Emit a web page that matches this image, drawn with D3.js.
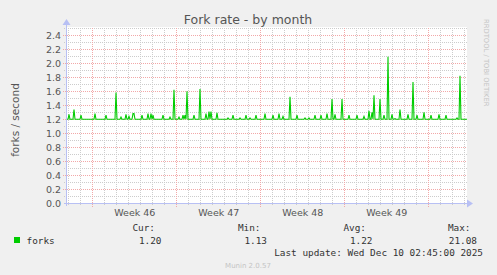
<!DOCTYPE html>
<html lang="en">
<head>
<meta charset="UTF-8">
<title>Fork rate - by month</title>
<style>
    body { margin: 0; background: #f0f0f0; }
    svg { display: block; }
    text { font-family: "DejaVu Sans", sans-serif; fill: #555; }
    .mono { font-family: "DejaVu Sans Mono", monospace; fill: #333; }
</style>
<script src="https://d3js.org/d3.v7.min.js"></script>
</head>
<body>
<svg width="497" height="275"></svg>
<script>
// period covered by the graph: 400 samples of 2 hours
const startTime = new Date(Date.UTC(2025, 10, 7, 21, 20));
const sampleHours = 2;
const sampleCount = 400;

// flat level of the series, forks / second
const baseline = 1.2;
// hours after startTime where the series peaks, and the peak values
const spikeHour = [4, 14, 28, 56, 78, 98, 108, 118, 124, 132, 134, 150, 162, 168, 172, 192,
    206, 214, 224, 232, 236, 240, 254, 266, 278, 284, 288, 300, 322, 332, 346, 358, 366,
    378, 396, 412, 424, 432, 446, 460, 476, 484, 496, 508, 520, 530, 536, 550, 564, 580,
    594, 604, 610, 614, 626, 634, 642, 650, 656, 666, 682, 692, 700, 714, 728, 744, 758,
    780, 786];
const spikeValue = [1.27, 1.34, 1.26, 1.28, 1.26, 1.58, 1.23, 1.27, 1.24, 1.28, 1.28, 1.26,
    1.28, 1.28, 1.26, 1.26, 1.23, 1.62, 1.23, 1.26, 1.26, 1.60, 1.26, 1.63, 1.28, 1.31,
    1.31, 1.29, 1.22, 1.26, 1.22, 1.26, 1.22, 1.26, 1.28, 1.26, 1.28, 1.24, 1.52, 1.26,
    1.22, 1.22, 1.26, 1.26, 1.28, 1.49, 1.27, 1.49, 1.26, 1.26, 1.24, 1.32, 1.30, 1.54,
    1.49, 1.26, 2.09, 1.27, 1.21, 1.34, 1.27, 1.73, 1.26, 1.30, 1.26, 1.27, 1.26, 1.22,
    1.82];

const yMax = 2.5;
const legendHeads = ['Cur:', 'Min:', 'Avg:', 'Max:'];
const legendValues = ['1.20', '1.13', '1.22', '21.08'];

const endTime = new Date(+startTime + sampleCount * sampleHours * 3600e3);

let spikes = new Map(spikeHour.map((h, i) => [h, spikeValue[i]]));
let series = d3.range(sampleCount + 1).map(i => {
    let h = i * sampleHours;
    return { t: new Date(+startTime + h * 3600e3), v: spikes.has(h) ? spikes.get(h) : baseline };
});

let svg = d3.select('svg');

let x = d3.scaleUtc().domain([startTime, endTime]).range([67, 467]);
let y = d3.scaleLinear().domain([0, yMax]).range([203.5, 28]);

// plot background
svg.append('rect')
    .attr('x', 66).attr('y', 27)
    .attr('width', 401).attr('height', 177)
    .attr('fill', '#fff');

let minorColor = '#cccccc';
let majorColor = '#f2a8a8';

// minor grid
let minorY = y.ticks(25);
let majorY = y.ticks(12);
let days = d3.utcDay.range(startTime, endTime);
let mondays = d3.utcMonday.range(startTime, endTime);

svg.append('g').selectAll('line')
    .data(minorY.filter(v => !majorY.some(m => Math.abs(m - v) < 1e-9)))
    .join('line')
    .attr('x1', 64).attr('x2', 467)
    .attr('y1', d => Math.round(y(d)) + 0.5).attr('y2', d => Math.round(y(d)) + 0.5)
    .attr('stroke', minorColor).attr('stroke-dasharray', '1,1');

svg.append('g').selectAll('line')
    .data(days.filter(d => !mondays.some(m => +m === +d)))
    .join('line')
    .attr('x1', d => Math.round(x(d)) + 0.5).attr('x2', d => Math.round(x(d)) + 0.5)
    .attr('y1', 28).attr('y2', 206)
    .attr('stroke', minorColor).attr('stroke-dasharray', '1,1');

// major grid
svg.append('g').selectAll('line')
    .data(majorY.filter(v => v > 0))
    .join('line')
    .attr('x1', 63).attr('x2', 467)
    .attr('y1', d => Math.round(y(d)) + 0.5).attr('y2', d => Math.round(y(d)) + 0.5)
    .attr('stroke', majorColor).attr('stroke-dasharray', '1,1');

svg.append('g').selectAll('line')
    .data(mondays)
    .join('line')
    .attr('x1', d => Math.round(x(d)) + 0.5).attr('x2', d => Math.round(x(d)) + 0.5)
    .attr('y1', 28).attr('y2', 207)
    .attr('stroke', majorColor).attr('stroke-dasharray', '1,1');

// y tick labels
let yAxis = svg.append('g')
    .attr('transform', 'translate(66,0)')
    .call(d3.axisLeft(y).tickValues(majorY).tickSize(0).tickPadding(5).tickFormat(d3.format('.1f')));
yAxis.select('.domain').remove();
yAxis.selectAll('text').attr('font-size', 9.5).attr('fill', '#555')
    .attr('font-family', '"DejaVu Sans", sans-serif');

// week labels centred in each week
let weekCentres = d3.utcMonday.range(d3.utcMonday.offset(startTime, -1), endTime)
    .map(d => new Date(+d + 3.5 * 86400e3))
    .filter(d => d > startTime && d < endTime);
let xAxis = svg.append('g')
    .attr('transform', 'translate(0,204)')
    .call(d3.axisBottom(x).tickValues(weekCentres).tickSize(0).tickPadding(5).tickFormat(d3.utcFormat('Week %V')));
xAxis.select('.domain').remove();
xAxis.selectAll('text').attr('font-size', 9.5).attr('fill', '#555')
    .attr('font-family', '"DejaVu Sans", sans-serif');

// axes with arrows
let axisColor = '#b8c0f4';
svg.append('line').attr('x1', 64).attr('x2', 468).attr('y1', 203.5).attr('y2', 203.5)
    .attr('stroke', axisColor);
svg.append('path').attr('d', 'M467,199.5 L473,203.5 L467,207.5 Z').attr('fill', axisColor);
svg.append('line').attr('x1', 66.5).attr('x2', 66.5).attr('y1', 206).attr('y2', 24)
    .attr('stroke', axisColor);
svg.append('path').attr('d', 'M62.5,25 L66.5,19 L70.5,25 Z').attr('fill', axisColor);

// the series
svg.append('path')
    .datum(series)
    .attr('d', d3.line().x(d => x(d.t)).y(d => y(d.v)))
    .attr('fill', 'none')
    .attr('stroke', '#00cc00')
    .attr('stroke-width', 1.1);

// titles
svg.append('text').attr('x', 248).attr('y', 24).attr('text-anchor', 'middle')
    .attr('font-size', 12.5).text('Fork rate - by month');
svg.append('text').attr('transform', 'translate(19,120) rotate(-90)').attr('text-anchor', 'middle')
    .attr('font-size', 10.5).text('forks / second');
svg.append('text').attr('transform', 'translate(484,19) rotate(90)')
    .attr('font-size', 6.8).style('fill', '#c4c4c4')
    .text('RRDTOOL / TOBI OETIKER');

// legend
svg.append('rect').attr('x', 14).attr('y', 237).attr('width', 6).attr('height', 6).attr('fill', '#00cc00');
svg.append('text').attr('class', 'mono').attr('x', 26.5).attr('y', 243.5).attr('font-size', 9.4).text('forks');

let headRight = [155, 260.5, 366, 470.5];
let valueRight = [161.5, 267, 372.5, 477];
legendHeads.forEach((h, i) => {
    svg.append('text').attr('class', 'mono').attr('x', headRight[i]).attr('y', 231)
        .attr('text-anchor', 'end').attr('font-size', 9.4).text(h);
    svg.append('text').attr('class', 'mono').attr('x', valueRight[i]).attr('y', 243.5)
        .attr('text-anchor', 'end').attr('font-size', 9.4).text(legendValues[i]);
});
svg.append('text').attr('class', 'mono').attr('x', 483).attr('y', 255.5)
    .attr('text-anchor', 'end').attr('font-size', 9.4).text('Last update: Wed Dec 10 02:45:00 2025');
svg.append('text').attr('x', 248).attr('y', 267.5).attr('text-anchor', 'middle')
    .attr('font-size', 7).style('fill', '#c4c4c4').text('Munin 2.0.57');
</script>
</body>
</html>
